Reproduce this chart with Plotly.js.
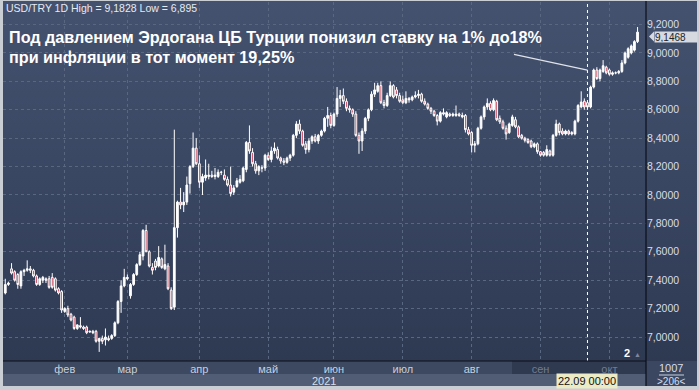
<!DOCTYPE html>
<html><head><meta charset="utf-8">
<script src="https://cdn.plot.ly/plotly-3.0.1.min.js"></script>
<style>
html,body{margin:0;padding:0;background:#c9cdd4;}
#chart{width:699px;height:390px;background:linear-gradient(to bottom,#44526f 0%,#3a4763 45%,#2c374f 100%);}
</style></head><body><div id="chart"></div>
<script>
// ---- DATA (USD/TRY, daily, 2021-01-05 .. 2021-10-14, trading days) ----
const startDate = '2021-01-05';
const endDate = '2021-10-14';
const open = [
7.31,7.37,7.48,7.46,7.44,7.36,7.46,7.47,7.48,7.47,7.43,7.37,7.40,7.41,7.41,7.42,7.41,7.34,7.32,
7.18,7.20,7.16,7.14,7.06,7.08,7.07,7.07,7.035,7.04,7.04,6.97,6.99,6.98,6.99,6.99,7.01,7.10,7.25,7.36,
7.41,7.29,7.37,7.44,7.51,7.57,7.75,7.60,7.49,7.535,7.50,7.55,7.48,7.50,7.33,7.21,7.77,7.95,7.93,7.95,8.08,8.20,8.33,
8.22,8.09,8.12,8.13,8.14,8.13,8.13,8.16,8.14,8.11,8.07,8.02,8.06,8.09,8.10,8.18,8.37,8.30,8.22,8.17,8.19,8.19,
8.28,8.25,8.31,8.32,8.26,8.24,8.23,8.26,8.28,8.42,8.50,8.45,8.36,8.32,8.38,8.41,8.38,8.42,8.45,8.54,8.56,
8.49,8.57,8.68,8.70,8.66,8.61,8.60,8.57,8.42,8.38,8.45,8.54,8.60,8.71,8.73,8.77,8.65,8.63,8.70,8.77,8.74,8.70,
8.67,8.65,8.68,8.67,8.69,8.70,8.71,8.66,8.64,8.61,8.59,8.56,8.52,8.58,8.55,8.57,8.56,8.56,8.57,8.55,8.56,8.46,
8.44,8.35,8.36,8.47,8.55,8.62,8.645,8.60,8.66,8.54,8.515,8.47,8.44,8.49,8.53,8.48,8.42,8.40,8.39,8.38,8.34,8.36,
8.305,8.30,8.28,8.31,8.28,8.42,8.50,8.45,8.43,8.45,8.44,8.43,8.52,8.62,8.66,8.65,8.62,8.76,8.88,8.82,8.87,8.90,
8.88,8.85,8.86,8.86,8.87,8.93,8.97,9.00,9.02,9.08];
const high = [
7.41,7.39,7.52,7.47,7.45,7.47,7.48,7.54,7.50,7.48,7.44,7.42,7.43,7.42,7.43,7.45,7.42,7.35,7.33,
7.21,7.22,7.17,7.15,7.09,7.14,7.08,7.08,7.045,7.05,7.05,6.99,7.01,7.06,7.01,7.02,7.11,7.26,7.40,7.48,
7.44,7.38,7.45,7.52,7.60,7.76,7.79,7.61,7.52,7.55,7.64,7.56,7.65,7.52,7.35,8.46,7.96,8.05,8.02,8.13,8.21,8.44,8.40,
8.28,8.15,8.25,8.22,8.17,8.19,8.18,8.17,8.18,8.13,8.20,8.07,8.12,8.14,8.20,8.38,8.49,8.33,8.24,8.21,8.21,8.29,
8.30,8.34,8.37,8.34,8.27,8.26,8.27,8.29,8.43,8.52,8.53,8.46,8.38,8.40,8.42,8.43,8.43,8.46,8.55,8.62,8.58,
8.58,8.76,8.74,8.75,8.68,8.63,8.61,8.59,8.44,8.47,8.55,8.61,8.73,8.79,8.79,8.80,8.67,8.72,8.80,8.78,8.76,8.72,
8.70,8.73,8.69,8.70,8.73,8.74,8.72,8.68,8.65,8.62,8.60,8.57,8.59,8.61,8.59,8.58,8.58,8.63,8.58,8.58,8.57,8.48,
8.45,8.38,8.48,8.56,8.63,8.68,8.66,8.68,8.67,8.56,8.53,8.49,8.51,8.565,8.55,8.49,8.43,8.41,8.40,8.39,8.37,8.37,
8.31,8.31,8.35,8.32,8.43,8.53,8.51,8.47,8.46,8.46,8.45,8.53,8.64,8.73,8.68,8.66,8.77,8.89,8.90,8.89,8.95,8.91,
8.89,8.87,8.87,8.88,8.95,9.01,9.04,9.06,9.09,9.1828];
const low = [
7.30,7.36,7.44,7.39,7.34,7.34,7.43,7.46,7.45,7.42,7.36,7.36,7.38,7.38,7.34,7.34,7.32,7.30,7.17,
7.17,7.14,7.11,7.05,7.05,7.06,7.05,7.02,7.03,7.02,6.96,6.895,6.95,6.94,6.97,6.98,7.00,7.09,7.17,7.35,
7.40,7.27,7.36,7.43,7.50,7.54,7.60,7.49,7.44,7.47,7.49,7.48,7.47,7.33,7.19,7.19,7.70,7.90,7.88,7.93,8.01,8.19,8.21,
8.05,8.00,8.10,8.11,8.12,8.11,8.12,8.14,8.10,8.06,7.99,8.00,8.05,8.08,8.09,8.16,8.29,8.20,8.15,8.14,8.16,8.17,
8.24,8.23,8.29,8.25,8.22,8.21,8.22,8.24,8.27,8.40,8.43,8.34,8.29,8.30,8.36,8.37,8.36,8.41,8.44,8.48,8.47,
8.48,8.55,8.62,8.64,8.59,8.58,8.55,8.41,8.29,8.31,8.43,8.52,8.59,8.69,8.72,8.64,8.61,8.62,8.69,8.68,8.68,8.65,
8.64,8.64,8.65,8.66,8.68,8.68,8.65,8.63,8.60,8.57,8.55,8.49,8.51,8.56,8.54,8.55,8.55,8.55,8.55,8.54,8.44,8.42,
8.30,8.30,8.35,8.46,8.53,8.60,8.59,8.59,8.52,8.50,8.46,8.39,8.43,8.48,8.47,8.40,8.39,8.37,8.36,8.33,8.33,8.29,
8.27,8.27,8.27,8.27,8.27,8.41,8.42,8.42,8.42,8.42,8.42,8.42,8.51,8.61,8.60,8.60,8.61,8.75,8.81,8.80,8.86,8.85,
8.84,8.84,8.85,8.85,8.86,8.92,8.96,8.99,9.01,9.07];
const close = [
7.37,7.38,7.45,7.40,7.37,7.46,7.47,7.48,7.47,7.43,7.37,7.41,7.42,7.40,7.35,7.35,7.33,7.31,7.19,
7.20,7.155,7.12,7.06,7.085,7.07,7.06,7.03,7.04,7.03,6.97,6.99,6.97,7.00,6.98,7.01,7.10,7.25,7.36,7.42,
7.42,7.37,7.44,7.51,7.58,7.75,7.60,7.50,7.47,7.49,7.56,7.49,7.51,7.34,7.20,7.77,7.95,7.93,7.95,8.07,8.20,8.33,8.22,
8.09,8.13,8.14,8.14,8.13,8.14,8.16,8.16,8.11,8.07,8.01,8.05,8.10,8.11,8.19,8.37,8.31,8.22,8.17,8.20,8.19,8.28,
8.25,8.31,8.33,8.26,8.24,8.23,8.26,8.28,8.42,8.50,8.45,8.35,8.32,8.38,8.41,8.38,8.42,8.45,8.54,8.56,8.49,
8.57,8.68,8.70,8.66,8.61,8.60,8.57,8.42,8.38,8.45,8.54,8.60,8.71,8.74,8.77,8.65,8.63,8.70,8.77,8.69,8.70,8.66,
8.65,8.68,8.67,8.69,8.70,8.71,8.66,8.64,8.61,8.59,8.56,8.52,8.58,8.57,8.58,8.56,8.57,8.57,8.56,8.56,8.46,8.43,
8.35,8.36,8.47,8.55,8.62,8.645,8.60,8.665,8.53,8.515,8.47,8.43,8.50,8.55,8.48,8.41,8.40,8.385,8.37,8.34,8.36,8.305,
8.28,8.28,8.32,8.28,8.42,8.50,8.44,8.43,8.45,8.43,8.43,8.52,8.63,8.655,8.62,8.62,8.76,8.88,8.82,8.88,8.91,8.86,
8.85,8.86,8.86,8.87,8.93,9.00,9.03,9.05,9.08,9.1468];
const monthTickDates = ['2021-02-01','2021-03-01','2021-04-01','2021-05-03','2021-06-01','2021-07-01','2021-08-02','2021-09-01','2021-10-01'];
const monthLabels = ['фев','мар','апр','май','июн','июл','авг','сен','окт'];
const lastPrice = 9.1468;
const cursorDate = '2021-09-22';
const headerText = 'USD/TRY 1D High = 9,1828 Low = 6,895';
const titleLine1 = 'Под давлением Эрдогана ЦБ Турции понизил ставку на 1% до18%';
const titleLine2 = 'при инфляции в тот момент 19,25%';

// ---- calendar ----
function tradingDays(s, e){
  const out=[]; const d=new Date(s+'T00:00:00Z'); const end=new Date(e+'T00:00:00Z');
  while(d<=end){ const w=d.getUTCDay(); if(w!==0&&w!==6) out.push(d.toISOString().slice(0,10)); d.setUTCDate(d.getUTCDate()+1); }
  return out;
}
const dates = tradingDays(startDate, endDate);
if ([open,high,low,close].some(a=>a.length!==dates.length)) throw new Error('length mismatch '+dates.length+' '+[open,high,low,close].map(a=>a.length).join(','));

// ---- geometry helpers (pixels -> paper) ----
const W=699,H=390, M={l:3,r:53,t:2,b:29};
const pw=W-M.l-M.r, ph=H-M.t-M.b;
const PX=p=>(p-M.l)/pw, PY=p=>(H-M.b-p)/ph;
const FONT='"Liberation Sans", Arial, sans-serif';

const dimLabels = monthLabels.map((m,i)=> i>=7 ? '<span style="color:#717d93">'+m+'</span>' : m);

const trace = {
  type:'candlestick', x:dates, open:open, high:high, low:low, close:close,
  increasing:{line:{color:'#ffffff',width:1}, fillcolor:'#ffffff'},
  decreasing:{line:{color:'#ffffff',width:1}, fillcolor:'#c22a42'},
  whiskerwidth:0, hoverinfo:'none', showlegend:false
};

const rect=(x0,y0,x1,y1,fill)=>({type:'rect',xref:'paper',yref:'paper',x0:PX(x0),x1:PX(x1),y0:PY(y0),y1:PY(y1),fillcolor:fill,line:{width:0},layer:'below'});
const line=(x0,y0,x1,y1,c,w)=>({type:'line',xref:'paper',yref:'paper',x0:PX(x0),x1:PX(x1),y0:PY(y0),y1:PY(y1),line:{color:c,width:w||1}});

const tagY = 36.5;
const shapes=[
  rect(3,361,646,374,'#3d4961'),
  rect(512,361,646,374,'#2f3950'),
  rect(3,374,646,386,'#515d75'),
  rect(646,361,697,386,'#3b4761'),
  // outer light frame
  rect(0,386,699,390,'#c9cdd4'), rect(0,0,3,390,'#c9cdd4'), rect(697,0,699,390,'#c9cdd4'), rect(0,0,699,1,'#c9cdd4'),
  // cursor vertical line
  {type:'line',xref:'x',yref:'paper',x0:cursorDate,x1:cursorDate,y0:0,y1:1,line:{color:'#ffffff',width:1,dash:'dot'}},
  line(646,1,646,386,'#0b0f18',1.2),
  line(3,361,646,361,'#0b0f18',1.2),
  line(659,375,684,375,'#c8d0de',1),
  // price tag arrow
  {type:'path',xref:'paper',yref:'paper',path:'M '+PX(649)+' '+PY(tagY)+' L '+PX(654)+' '+PY(tagY-5)+' L '+PX(654)+' '+PY(tagY+5)+' Z',fillcolor:'#d6dae0',line:{width:0}}
];

const ann=(x,y,text,opt)=>Object.assign({xref:'paper',yref:'paper',x:PX(x),y:PY(y),text:text,showarrow:false,xanchor:'left',yanchor:'middle',font:{family:FONT,size:11,color:'#d8dee9'}},opt||{});

const annotations=[
  ann(4,8.5,headerText,{font:{family:FONT,size:10.5,color:'#e6eaf2'}}),
  ann(7,37.5,'<b>'+titleLine1+'</b>',{font:{family:FONT,size:16.2,color:'#ffffff'}}),
  ann(7,56.5,'<b>'+titleLine2+'</b>',{font:{family:FONT,size:16.2,color:'#ffffff'}}),
  {xref:'x',yref:'y',x:cursorDate,y:8.88,ax:-75,ay:-16,text:'',showarrow:true,arrowhead:0,arrowwidth:1.3,arrowcolor:'#dfe3ea',standoff:0,startstandoff:0},
  ann(654,tagY,lastPrice.toFixed(4).replace('.',','),{bgcolor:'#d6dae0',font:{family:FONT,size:10,color:'#222'},borderpad:0,width:42,height:10,align:'left'}),
  ann(324,381,'2021',{xanchor:'center',font:{family:FONT,size:11,color:'#d8dee9'}}),
  {xref:'x',yref:'paper',x:cursorDate,y:PY(380.5),text:'22.09 00:00',showarrow:false,xanchor:'center',yanchor:'middle',bgcolor:'#ecebc6',borderpad:1,font:{family:FONT,size:11,color:'#111'}},
  ann(671,368.5,'1007',{xanchor:'center',font:{family:FONT,size:11,color:'#d8dee9'}}),
  ann(671,381,'>206<',{xanchor:'center',font:{family:FONT,size:10,color:'#d8dee9'}}),
  ann(622,353,'<b>2</b>',{font:{family:FONT,size:11,color:'#ffffff'}}),
  ann(632,354,'▲',{font:{family:FONT,size:7,color:'#7e889c'}})
];

const layout={
  width:W,height:H,margin:M,
  paper_bgcolor:'rgba(0,0,0,0)',plot_bgcolor:'rgba(0,0,0,0)',
  separators:', ',
  showlegend:false,
  boxgap:0.2,
  xaxis:{type:'category',range:[-0.73,204.7],rangeslider:{visible:false},
    tickmode:'array',tickvals:monthTickDates,ticktext:dimLabels,ticks:'',
    showgrid:true,gridcolor:'#5a6781',griddash:'dot',gridwidth:1,
    tickfont:{family:FONT,size:11,color:'#c7cfdd'},showline:false,zeroline:false,fixedrange:true},
  yaxis:{side:'right',range:[6.831,9.359],tick0:7,dtick:0.2,tickformat:'.4f',ticks:'',
    showgrid:true,gridcolor:'#5a6781',griddash:'dot',gridwidth:1,zeroline:false,showline:false,
    tickfont:{family:FONT,size:10.5,color:'#d8dee9'},fixedrange:true},
  shapes:shapes, annotations:annotations
};
Plotly.newPlot('chart',[trace],layout,{displayModeBar:false,staticPlot:true});
</script></body></html>
